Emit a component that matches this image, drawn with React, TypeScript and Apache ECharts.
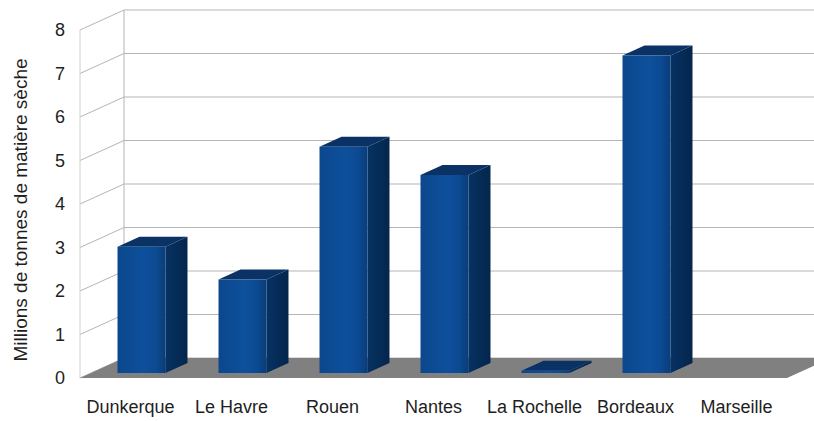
import React, { useEffect, useRef } from "react";
import * as echarts from "echarts";

const categories = ["Dunkerque", "Le Havre", "Rouen", "Nantes", "La Rochelle", "Bordeaux", "Marseille"];
const values = [2.9, 2.15, 5.2, 4.55, 0.05, 7.3, 0];
const yTicks = [0, 1, 2, 3, 4, 5, 6, 7, 8];
const yAxisTitle = "Millions de tonnes de matière sèche";

const DX = 44;
const DY = -20;
const FONT = "'Liberation Sans', Arial, sans-serif";

export default function App() {
  const ref = useRef<HTMLDivElement>(null);
  useEffect(() => {
    if (!ref.current) return;
    const chart = echarts.init(ref.current, null, { renderer: "svg" });
    const gridColor = "#b5b5b5";

    const wallItem = (params: any, api: any) => {
      const cs = params.coordSys;
      const v = api.value(1);
      const y = api.coord([0, v])[1];
      const left = cs.x;
      const right = cs.x + cs.width;
      return {
        type: "group",
        children: [
          {
            type: "line",
            shape: { x1: left + DX, y1: y + DY, x2: right + DX, y2: y + DY },
            style: { stroke: gridColor, lineWidth: 1 },
          },
          {
            type: "line",
            shape: { x1: left, y1: y, x2: left + DX, y2: y + DY },
            style: { stroke: gridColor, lineWidth: 1 },
          },
        ],
      };
    };

    const floorItem = (params: any, api: any) => {
      const cs = params.coordSys;
      const y0 = api.coord([0, yTicks[0]])[1];
      const yTop = api.coord([0, yTicks[yTicks.length - 1]])[1];
      const left = cs.x;
      const right = cs.x + cs.width;
      return {
        type: "group",
        children: [
          {
            type: "line",
            shape: { x1: left, y1: y0, x2: left, y2: yTop },
            style: { stroke: "#d0d0d0", lineWidth: 1 },
          },
          {
            type: "line",
            shape: { x1: left + DX, y1: y0 + DY, x2: left + DX, y2: yTop + DY },
            style: { stroke: gridColor, lineWidth: 1 },
          },
          {
            type: "polygon",
            shape: {
              points: [
                [left, y0],
                [left + DX, y0 + DY],
                [right + DX, y0 + DY],
                [right, y0],
              ],
            },
            style: { fill: "#808080" },
          },
        ],
      };
    };

    const barItem = (params: any, api: any) => {
      const i = api.value(0);
      const v = api.value(1);
      if (!(v > 0)) return { type: "group", children: [] };
      const base = api.coord([i, 0]);
      const top = api.coord([i, v]);
      const band = api.size([1, 0])[0];
      const w = band * 0.475;
      const fx = 0.25 * DX;
      const fy = 0.25 * DY;
      const bx = 0.5 * DX;
      const by = 0.5 * DY;
      const x0 = base[0] - w / 2 + fx;
      const x1 = x0 + w;
      const yb = base[1] + fy;
      const yt = top[1] + fy;
      return {
        type: "group",
        children: [
          {
            type: "polygon",
            shape: { points: [[x1, yb], [x1, yt], [x1 + bx, yt + by], [x1 + bx, yb + by]] },
            style: {
              fill: new echarts.graphic.LinearGradient(0, 0, 1, 0, [
                { offset: 0, color: "#063263" },
                { offset: 1, color: "#04264c" },
              ]),
            },
          },
          {
            type: "polygon",
            shape: { points: [[x0, yt], [x1, yt], [x1 + bx, yt + by], [x0 + bx, yt + by]] },
            style: { fill: "#0a3265" },
          },
          {
            type: "rect",
            shape: { x: x0, y: yt, width: w, height: yb - yt },
            style: {
              fill: new echarts.graphic.LinearGradient(0, 0, 1, 0, [
                { offset: 0, color: "#0b478c" },
                { offset: 0.55, color: "#0e509d" },
                { offset: 0.8, color: "#0c4a92" },
                { offset: 1, color: "#093d79" },
              ]),
            },
          },
        ],
      };
    };

    chart.setOption({
      animation: false,
      grid: { left: 80, top: 30, right: 27, bottom: 43, containLabel: false },
      xAxis: {
        type: "category",
        data: categories,
        axisLine: { show: false },
        axisTick: { show: false },
        splitLine: { show: false },
        axisLabel: { interval: 0, fontSize: 18, color: "#1e1e1e", margin: 20, fontFamily: FONT },
      },
      yAxis: {
        type: "value",
        min: 0,
        max: 8,
        interval: 1,
        axisLine: { show: false },
        axisTick: { show: false },
        splitLine: { show: false },
        axisLabel: { fontSize: 18, color: "#1e1e1e", margin: 15, fontFamily: FONT },
        name: yAxisTitle,
        nameLocation: "middle",
        nameGap: 50,
        nameTextStyle: {
          fontSize: 19,
          color: "#1e1e1e",
          fontFamily: FONT,
          padding: [0, 12, 0, 0],
        },
      },
      series: [
        {
          type: "custom",
          z: 1,
          renderItem: wallItem,
          data: yTicks.map((v) => [0, v]),
          encode: { x: 0, y: 1 },
          silent: true,
        },
        {
          type: "custom",
          z: 2,
          renderItem: floorItem,
          data: [[0, 0]],
          encode: { x: 0, y: 1 },
          silent: true,
        },
        {
          type: "custom",
          z: 3,
          renderItem: barItem,
          data: values.map((v, i) => [i, v]),
          encode: { x: 0, y: 1 },
        },
      ],
    });
    return () => chart.dispose();
  }, []);
  return (
    <div
      ref={ref}
      style={{ position: "fixed", left: 0, top: 0, width: 814, height: 421, background: "#fff" }}
    />
  );
}
